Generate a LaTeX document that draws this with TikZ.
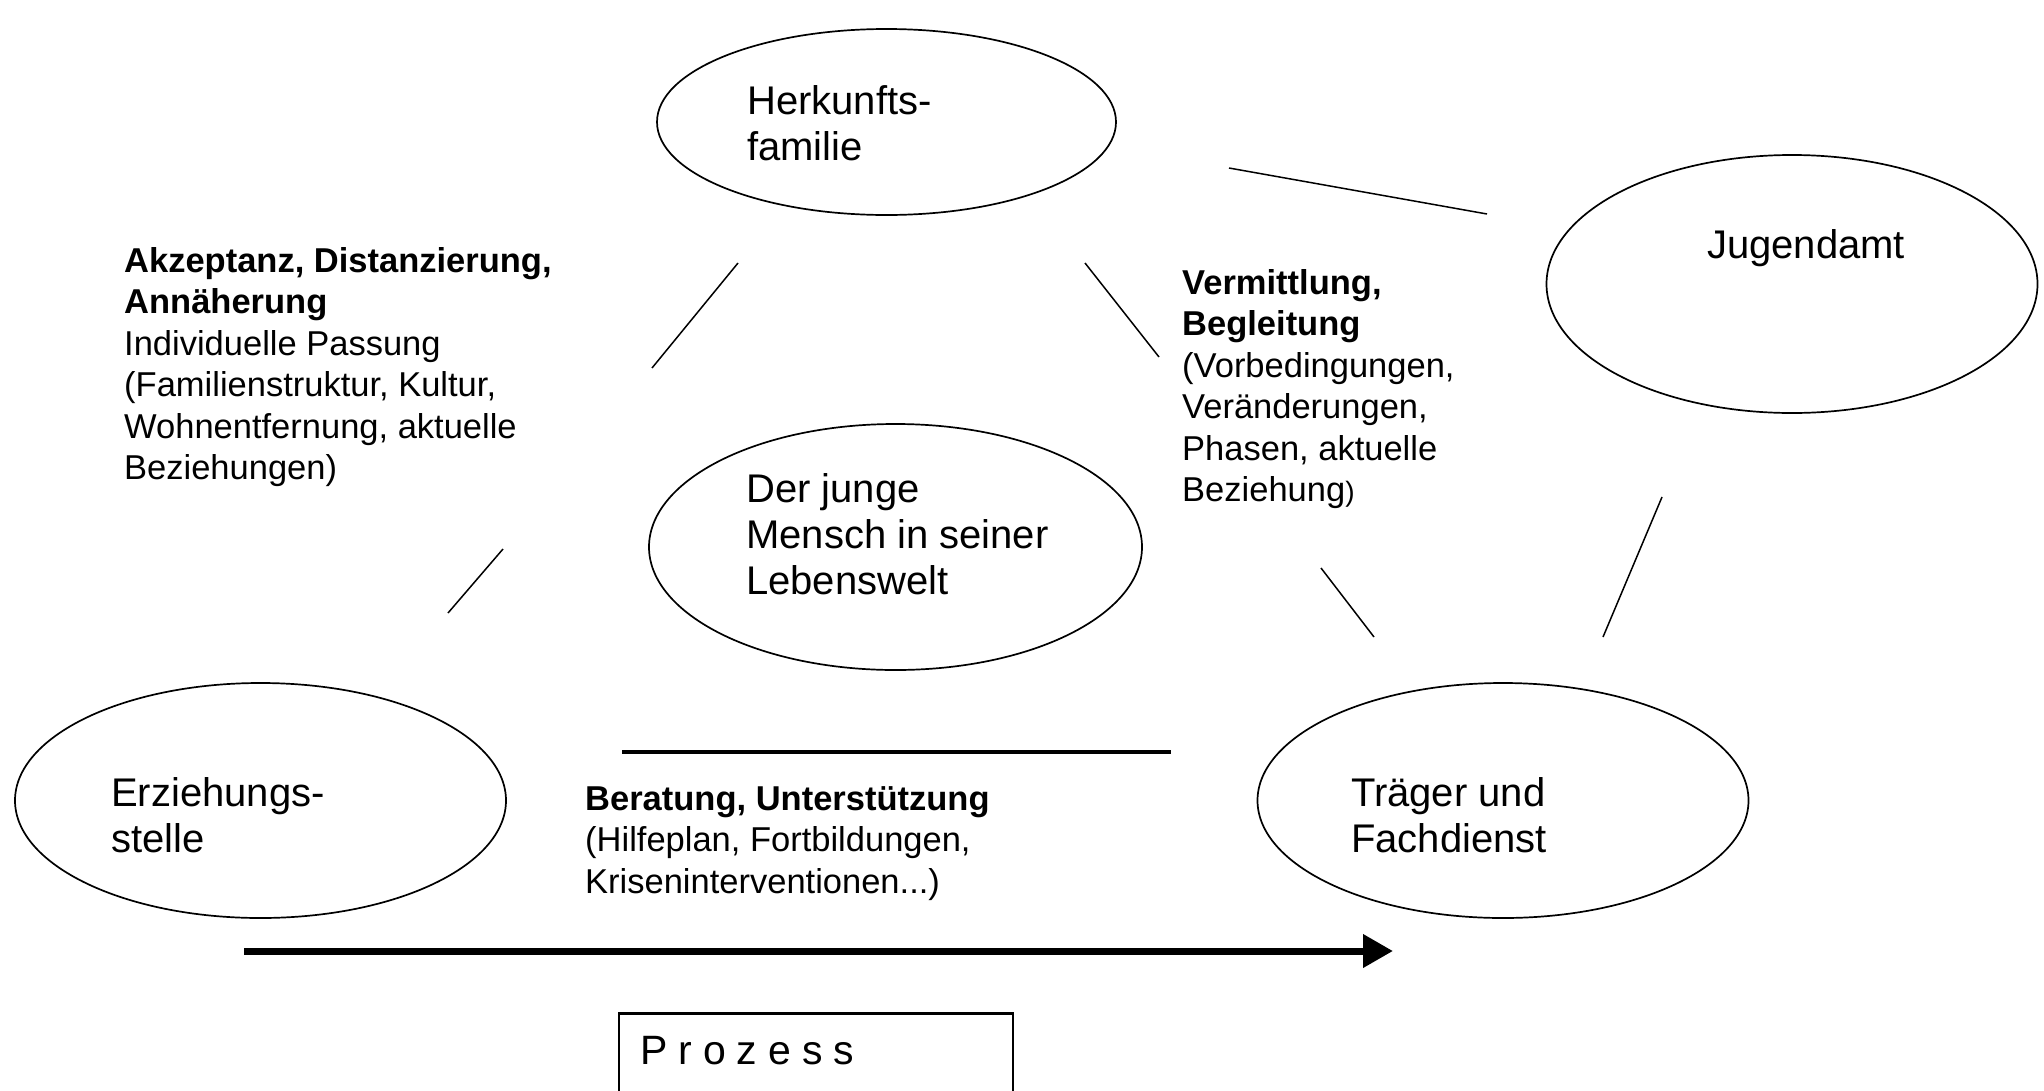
\documentclass[tikz,border=0pt]{standalone}
\usepackage{fontspec}
\setmainfont{Liberation Sans}
\usetikzlibrary{arrows.meta,shapes.geometric}
\begin{document}
\begin{tikzpicture}[x=1pt,y=-1pt,
  ell/.style={ellipse, draw, line width=1.7pt, inner sep=0pt, outer sep=0pt},
  conn/.style={line width=1.5pt},
  big/.style={font=\fontsize{40}{46}\selectfont, inner sep=0pt, anchor=base west},
  lab/.style={font=\fontsize{34.5}{41.5}\selectfont, inner sep=0pt, anchor=base west}]
\useasboundingbox (0,0) rectangle (2044,1090);
\clip (0,0) rectangle (2044,1090);
\fill[white] (0,0) rectangle (2044,1090);

% ellipses
\node[ell, minimum width=459pt, minimum height=186pt] (herk) at (886.5,122) {};
\node[ell, minimum width=491pt, minimum height=258pt] (jug) at (1792,284) {};
\node[ell, minimum width=493pt, minimum height=246pt] (mensch) at (895.5,547) {};
\node[ell, minimum width=491pt, minimum height=235pt] (erz) at (260.5,800.5) {};
\node[ell, minimum width=491pt, minimum height=235pt] (traeger) at (1503,800.5) {};

% ellipse texts
\node[big] (herkT) at (747,114) {\vtop{\hbox{Herkunfts-}\hbox{familie}}};
\node[big] (jugT) at (1707,258) {Jugendamt};
\node[big] (menschT) at (746,502) {\vtop{\hbox{Der junge}\hbox{Mensch in seiner}\hbox{Lebenswelt}}};
\node[big] (erzT) at (111,806) {\vtop{\hbox{Erziehungs-}\hbox{stelle}}};
\node[big] (traegerT) at (1351,806) {\vtop{\hbox{Träger und}\hbox{Fachdienst}}};

% labels
\node[lab] (akz) at (124,272) {\vtop{\hbox{\bfseries Akzeptanz, Distanzierung,}\hbox{\bfseries Annäherung}\hbox{Individuelle Passung}\hbox{(Familienstruktur, Kultur,}\hbox{Wohnentfernung, aktuelle}\hbox{Beziehungen)}}};
\node[lab] (verm) at (1182,294) {\vtop{\hbox{\bfseries Vermittlung,}\hbox{\bfseries Begleitung}\hbox{(Vorbedingungen,}\hbox{Veränderungen,}\hbox{Phasen, aktuelle}\hbox{Beziehung{\fontsize{28}{28}\selectfont )}}}};
\node[lab] (ber) at (585,810) {\vtop{\hbox{\bfseries Beratung, Unterstützung}\hbox{(Hilfeplan, Fortbildungen,}\hbox{Kriseninterventionen...)}}};

% connectors
\coordinate (c1a) at (1229,168); \coordinate (c1b) at (1487,214);
\coordinate (c2a) at (738,263);  \coordinate (c2b) at (652,368);
\coordinate (c3a) at (1085,263); \coordinate (c3b) at (1159,357);
\coordinate (c4a) at (503,549);  \coordinate (c4b) at (448,613);
\coordinate (c5a) at (1321,568); \coordinate (c5b) at (1374,637);
\coordinate (c6a) at (1662,497); \coordinate (c6b) at (1603,637);
\coordinate (c7a) at (622,752);  \coordinate (c7b) at (1171,752);
\draw[conn] (c1a) -- (c1b);
\draw[conn] (c2a) -- (c2b);
\draw[conn] (c3a) -- (c3b);
\draw[conn] (c4a) -- (c4b);
\draw[conn] (c5a) -- (c5b);
\draw[conn] (c6a) -- (c6b);
\draw[line width=3.5pt] (c7a) -- (c7b);

% process arrow
\coordinate (arrS) at (244,951);
\coordinate (arrE) at (1393,951);
\draw[line width=7pt, -{Triangle[length=30pt,width=32pt]}] (arrS) -- (arrE);

% Prozess box
\node[draw, line width=1.5pt, anchor=north west, minimum width=394pt, minimum height=140pt, inner sep=0pt] (pbox) at (618,1013) {};
\draw[line width=3pt] (pbox.north west) -- (pbox.north east);
\node[font=\fontsize{41}{44}\selectfont, inner sep=0pt, anchor=base west] (pT) at (640,1064) {P\hspace{11pt}r\hspace{11pt}o\hspace{11pt}z\hspace{11pt}e\hspace{11pt}s\hspace{11pt}s};
\end{tikzpicture}
\end{document}
